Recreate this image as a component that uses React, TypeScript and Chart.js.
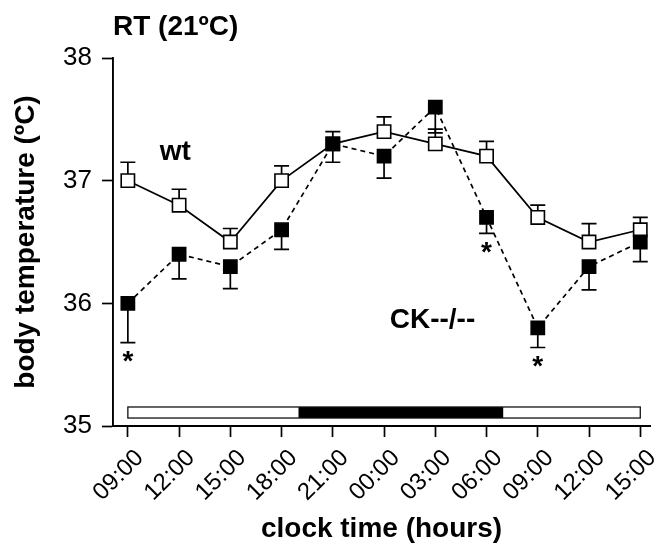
import React, { useEffect, useRef } from 'react';
import { Chart, registerables } from 'chart.js';

Chart.register(...registerables);

// ---- data ----
const categories = ['09:00', '12:00', '15:00', '18:00', '21:00', '00:00', '03:00', '06:00', '09:00', '12:00', '15:00'];
const wtValues = [37.0, 36.8, 36.5, 37.0, 37.3, 37.4, 37.3, 37.2, 36.7, 36.5, 36.6];
const wtErr = [0.15, 0.13, 0.11, 0.12, 0.1, 0.12, 0.12, 0.12, 0.1, 0.15, 0.1];
const ckValues = [36.0, 36.4, 36.3, 36.6, 37.3, 37.2, 37.6, 36.7, 35.8, 36.3, 36.5];
const ckErr = [0.32, 0.2, 0.18, 0.16, 0.15, 0.18, 0.21, 0.13, 0.16, 0.19, 0.16];
const significantIdx = [0, 7, 8];
const yTicks = [35, 36, 37, 38];
const photoperiodFrom = [0, 3.33, 7.33];
const photoperiodTo = [3.33, 7.33, 10];
const photoperiodDark = [false, true, false];
const photoperiodBand = [35.065, 35.155];

const FONT = '"Liberation Sans", Arial, Helvetica, sans-serif';

const annotations = {
  id: 'annotations',
  beforeDatasetsDraw(chart: any) {
    const { ctx, scales } = chart;
    const x = scales.x;
    const y = scales.y;
    ctx.save();
    // light/dark bar
    const top = y.getPixelForValue(photoperiodBand[1]);
    const bottom = y.getPixelForValue(photoperiodBand[0]);
    photoperiodFrom.forEach((f, i) => {
      const x0 = x.getPixelForValue(f);
      const x1 = x.getPixelForValue(photoperiodTo[i]);
      ctx.fillStyle = photoperiodDark[i] ? '#000' : '#fff';
      ctx.fillRect(x0, top, x1 - x0, bottom - top);
    });
    ctx.strokeStyle = '#111';
    ctx.lineWidth = 1.3;
    const bx0 = x.getPixelForValue(photoperiodFrom[0]);
    const bx1 = x.getPixelForValue(photoperiodTo[photoperiodTo.length - 1]);
    ctx.strokeRect(bx0, top, bx1 - bx0, bottom - top);

    // error bars
    ctx.strokeStyle = '#000';
    ctx.lineWidth = 1.7;
    const drawBars = (vals: number[], errs: number[], dir: number) => {
      vals.forEach((v, i) => {
        const px = x.getPixelForValue(i);
        const py = y.getPixelForValue(v);
        const pe = y.getPixelForValue(v + dir * errs[i]);
        ctx.beginPath();
        ctx.moveTo(px, py);
        ctx.lineTo(px, pe);
        ctx.moveTo(px - 7.5, pe);
        ctx.lineTo(px + 7.5, pe);
        ctx.stroke();
      });
    };
    drawBars(wtValues, wtErr, 1);
    drawBars(ckValues, ckErr, -1);
    ctx.restore();
  },
  afterDatasetsDraw(chart: any) {
    const { ctx, scales, chartArea } = chart;
    const x = scales.x;
    const y = scales.y;
    ctx.save();
    ctx.fillStyle = '#000';
    ctx.font = `bold 28px ${FONT}`;
    ctx.textAlign = 'left';
    ctx.textBaseline = 'alphabetic';
    ctx.fillText('RT (21ºC)', chartArea.left, chartArea.top - 23);
    ctx.fillText('wt', x.getPixelForValue(0.62), y.getPixelForValue(37.17));
    ctx.fillText('CK--/--', x.getPixelForValue(5.11), y.getPixelForValue(35.8));
    // significance asterisks
    ctx.textAlign = 'center';
    ctx.textBaseline = 'top';
    significantIdx.forEach((i) => {
      const px = x.getPixelForValue(i);
      const pe = y.getPixelForValue(ckValues[i] - ckErr[i]);
      ctx.fillText('*', px, pe + 6);
    });
    ctx.restore();
  },
};

export default function App() {
  const ref = useRef<HTMLCanvasElement | null>(null);
  useEffect(() => {
    if (!ref.current) return;
    const chart = new Chart(ref.current, {
      type: 'line',
      data: {
        datasets: [
          {
            label: 'CK--/--',
            data: ckValues.map((v, i) => ({ x: i, y: v })),
            borderColor: '#000',
            borderWidth: 1.7,
            borderDash: [5, 4],
            pointStyle: 'rect',
            pointRadius: 9.4,
            pointBorderWidth: 1.5,
            pointBackgroundColor: '#000',
            pointBorderColor: '#000',
            tension: 0,
            fill: false,
          },
          {
            label: 'wt',
            data: wtValues.map((v, i) => ({ x: i, y: v })),
            borderColor: '#000',
            borderWidth: 1.7,
            pointStyle: 'rect',
            pointRadius: 9.4,
            pointBorderWidth: 1.6,
            pointBackgroundColor: '#fff',
            pointBorderColor: '#000',
            tension: 0,
            fill: false,
          },
        ],
      },
      options: {
        responsive: false,
        animation: false,
        devicePixelRatio: 1,
        layout: { padding: { top: 58, right: 13, left: 0, bottom: 0 } },
        plugins: { legend: { display: false }, tooltip: { enabled: false }, title: { display: false } },
        scales: {
          x: {
            type: 'linear',
            min: -0.29,
            max: 10.19,
            afterBuildTicks: (s: any) => {
              s.ticks = categories.map((_, i) => ({ value: i }));
            },
            afterFit: (s: any) => {
              s.height = 134;
              s.paddingLeft = 0;
              s.paddingRight = 0;
            },
            grid: { drawOnChartArea: false, drawTicks: true, tickLength: 11, tickColor: '#000', tickWidth: 1.7 },
            border: { display: true, color: '#000', width: 1.9 },
            ticks: {
              autoSkip: false,
              maxRotation: 45,
              minRotation: 45,
              padding: 7,
              labelOffset: 12,
              color: '#000',
              font: { family: FONT, size: 24 },
              callback: (v: any) => categories[Math.round(Number(v))] ?? '',
            },
            title: {
              display: true,
              text: 'clock time (hours)',
              color: '#000',
              font: { family: FONT, size: 28, weight: 'bold' },
              padding: { top: 0, bottom: 14 },
            },
          },
          y: {
            min: 35,
            max: 38,
            afterBuildTicks: (s: any) => {
              s.ticks = yTicks.map((v) => ({ value: v }));
            },
            afterFit: (s: any) => {
              s.width = 113;
            },
            grid: { drawOnChartArea: false, drawTicks: true, tickLength: 11, tickColor: '#000', tickWidth: 1.7 },
            border: { display: true, color: '#000', width: 1.9 },
            ticks: {
              padding: 10,
              color: '#000',
              font: { family: FONT, size: 26 },
              callback: (v: any) => String(v),
            },
            title: {
              display: true,
              text: 'body temperature (ºC)',
              color: '#000',
              font: { family: FONT, size: 28, weight: 'bold' },
              padding: { top: 9, bottom: 0 },
            },
          },
        },
      },
      plugins: [annotations],
    });
    return () => chart.destroy();
  }, []);
  return (
    <div style={{ position: 'absolute', left: 0, top: 0, width: 663, height: 560, background: '#fff' }}>
      <canvas ref={ref} width={663} height={560} />
    </div>
  );
}
